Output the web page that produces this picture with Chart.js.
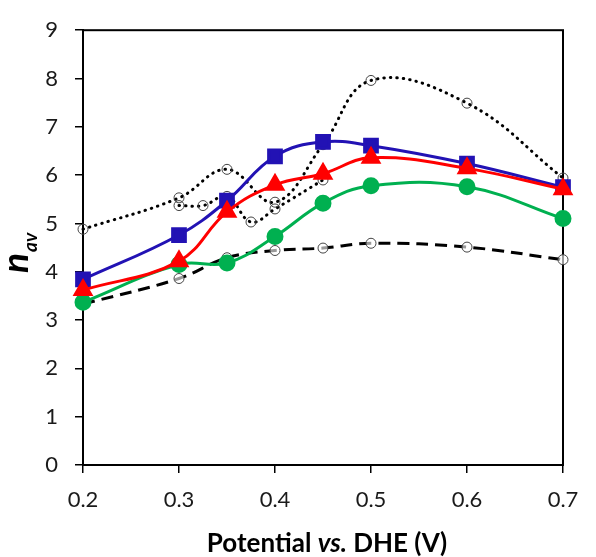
<!DOCTYPE html>
<html>
<head>
<meta charset="utf-8">
<script src="https://cdn.jsdelivr.net/npm/chart.js@4/dist/chart.umd.min.js"></script>
<style>
 body{margin:0;background:#fff;}
 #wrap{width:596px;height:557px;}
</style>
</head>
<body>
<div id="wrap"><canvas id="nChart" width="596" height="557"></canvas></div>
<script>
// DATA
const potentials = [0.2, 0.3, 0.35, 0.4, 0.45, 0.5, 0.6, 0.7];
const blueN  = [3.84, 4.76, 5.47, 6.39, 6.69, 6.61, 6.24, 5.75];
const redN   = [3.62, 4.22, 5.24, 5.80, 6.03, 6.36, 6.14, 5.71];
const greenN = [3.37, 4.15, 4.18, 4.73, 5.42, 5.78, 5.76, 5.10];
const dashN  = [3.33, 3.86, 4.29, 4.44, 4.49, 4.59, 4.51, 4.25];
const dotAN  = [4.88, 5.53, 6.12, 5.44, 6.63, 7.96, 7.49, 5.94];
const dotBPotentials = [0.3, 0.325, 0.35, 0.375, 0.4, 0.45];
const dotBN  = [5.37, 5.37, 5.56, 5.03, 5.30, 5.90];
const yTicks = [0, 1, 2, 3, 4, 5, 6, 7, 8, 9];
const xTicks = [0.2, 0.3, 0.4, 0.5, 0.6, 0.7];

function pts(xs, ys){
 return xs.map((x, i) => ({x: x, y: ys[i]}));
}

const FONT = "Lato, 'Liberation Sans', sans-serif";

// frame + axis titles
const framePlugin = {
 id: 'frame',
 beforeDatasetsDraw(chart){
   const ctx = chart.ctx, a = chart.chartArea;
   ctx.save();
   ctx.strokeStyle = '#000';
   ctx.lineWidth = 2;
   ctx.strokeRect(a.left, a.top, a.right - a.left, a.bottom - a.top);
   ctx.restore();
 },
 afterDraw(chart){
   const ctx = chart.ctx, a = chart.chartArea;
   ctx.save();
   ctx.fillStyle = '#000';
   ctx.textBaseline = 'alphabetic';
   // x title with italic "vs."
   const parts = [
     ["Potential ", "bold 26px " + FONT],
     ["vs.", "italic bold 26px " + FONT],
     [" DHE (V)", "bold 26px " + FONT]
   ];
   let total = 0;
   parts.forEach(p => { ctx.font = p[1]; total += ctx.measureText(p[0]).width; });
   let x = (a.left + a.right) / 2 + 4 - total / 2;
   parts.forEach(p => {
     ctx.font = p[1];
     ctx.textAlign = 'left';
     ctx.fillText(p[0], x, 552);
     x += ctx.measureText(p[0]).width;
   });
   // y title n_av
   ctx.translate(28, 273);
   ctx.rotate(-Math.PI / 2);
   ctx.font = "italic bold 37px " + FONT;
   const nW = ctx.measureText("n").width;
   ctx.fillText("n", 0, 0);
   ctx.font = "italic bold 19px " + FONT;
   ctx.fillText("av", nW + 1, 9);
   ctx.restore();
 }
};

window.onload = function(){
 new Chart(document.getElementById("nChart"), {
   type: 'line',
   data: {
     datasets: [
       {label: "red", data: pts(potentials, redN), borderColor: "#ff0000", backgroundColor: "#ff0000",
        borderWidth: 3, pointStyle: 'triangle', pointRadius: 9, tension: 0.4, clip: false},
       {label: "blue", data: pts(potentials, blueN), borderColor: "#2212b4", backgroundColor: "#2212b4",
        borderWidth: 3, pointStyle: 'rect', pointRadius: 9, tension: 0.4, clip: false},
       {label: "green", data: pts(potentials, greenN), borderColor: "#00b050", backgroundColor: "#00b050",
        borderWidth: 3, pointStyle: 'circle', pointRadius: 7, tension: 0.4, clip: false},
       {label: "dashed", data: pts(potentials, dashN), borderColor: "#000", backgroundColor: "rgba(255,255,255,0.6)",
        borderWidth: 3, borderDash: [12, 7], pointStyle: 'circle', pointRadius: 5, pointBorderWidth: 1,
        pointBorderColor: "#444", tension: 0.4, clip: false},
       {label: "dottedA", data: pts(potentials, dotAN), borderColor: "#000", backgroundColor: "rgba(0,0,0,0)",
        borderWidth: 3, borderDash: [0.5, 6], borderCapStyle: 'round', pointStyle: 'circle', pointRadius: 5,
        pointBorderWidth: 1, pointBorderColor: "#444", tension: 0.4, clip: false},
       {label: "dottedB", data: pts(dotBPotentials, dotBN), borderColor: "#000", backgroundColor: "rgba(0,0,0,0)",
        borderWidth: 3, borderDash: [0.5, 6], borderCapStyle: 'round', pointStyle: 'circle', pointRadius: 5,
        pointBorderWidth: 1, pointBorderColor: "#444", tension: 0.4, clip: false}
     ]
   },
   options: {
     responsive: false,
     animation: false,
     layout: {padding: {left: 0, right: 33, top: 24, bottom: 0}},
     plugins: {legend: {display: false}, tooltip: {enabled: false}},
     scales: {
       x: {
         type: 'linear', min: 0.2, max: 0.7,
         afterFit: s => { s.height = 92; },
         afterBuildTicks: s => { s.ticks = xTicks.map(v => ({value: v})); },
         grid: {display: true, drawOnChartArea: false, drawTicks: true, tickLength: 8, color: '#000', lineWidth: 1.5},
         border: {display: true, color: '#000', width: 2},
         ticks: {color: '#1a1a1a', font: {family: FONT, size: 22}, padding: 14,
                 callback: v => v.toFixed(1)}
       },
       y: {
         min: 0, max: 9,
         afterFit: s => { s.width = 83; },
         afterBuildTicks: s => { s.ticks = yTicks.map(v => ({value: v})); },
         grid: {display: true, drawOnChartArea: false, drawTicks: true, tickLength: 8, color: '#000', lineWidth: 1.5},
         border: {display: true, color: '#000', width: 2},
         ticks: {color: '#1a1a1a', font: {family: FONT, size: 22}, padding: 17}
       }
     }
   },
   plugins: [framePlugin]
 });
};
</script>
</body>
</html>
